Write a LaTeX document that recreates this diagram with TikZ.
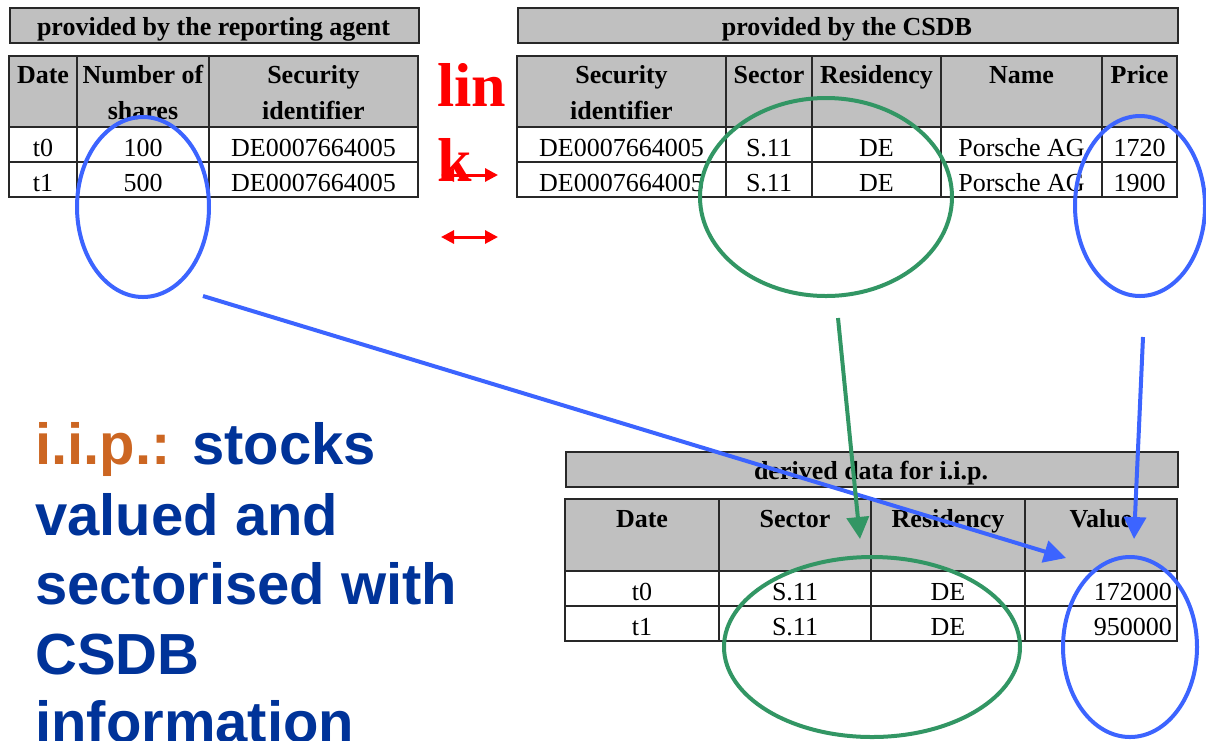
\documentclass[tikz,border=0pt]{standalone}
\usepackage{fontspec}
\setmainfont{Liberation Serif}
\newfontfamily\arialf{Liberation Sans}
\usetikzlibrary{arrows.meta,shapes.geometric}
\definecolor{hdr}{RGB}{192,192,192}
\definecolor{gridc}{RGB}{40,40,40}
\definecolor{ringblue}{RGB}{60,100,255}
\definecolor{ringgreen}{RGB}{50,150,100}
\definecolor{txtblue}{RGB}{0,51,153}
\definecolor{txtorange}{RGB}{204,102,34}
\begin{document}
\begin{tikzpicture}[x=1pt,y=-1pt,
  hdrbox/.style={draw=gridc,line width=1.5pt,fill=hdr},
  rowbox/.style={draw=gridc,line width=1.5pt,fill=white},
  hd/.style={anchor=base,inner sep=0pt,font=\fontsize{26}{31}\selectfont\bfseries},
  dt/.style={anchor=base,inner sep=0pt,font=\fontsize{26}{31}\selectfont},
  ring/.style={ellipse,draw,line width=4pt,inner sep=0pt},
  conn/.style={line width=4pt,-{Triangle[length=22pt,width=22pt]}},
  lnk/.style={red,line width=3pt,{Triangle[length=13pt,width=13pt]}-{Triangle[length=13pt,width=13pt]}},
  big/.style={anchor=base west,inner sep=0pt,text=txtblue,font=\arialf\fontsize{58}{70}\selectfont\bfseries}
]
\useasboundingbox (0,0) rectangle (1206,740);

% ---------- top-left table ----------
\node[hdrbox,anchor=north west,minimum width=409pt,minimum height=35pt,inner sep=0pt] (tl) at (9,7) {};
\node[hd] (tltitle) at (213.5,35) {provided by the reporting agent};
\path[hdrbox] (9,56) rectangle (418,127);
\path[rowbox] (9,127) rectangle (418,162);
\path[rowbox] (9,162) rectangle (418,197);
\draw[draw=gridc,line width=1.5pt] (77,56) -- (77,197) (209,56) -- (209,197);
\node[hd] (a1) at (43,83) {Date};
\node[hd] (a2) at (143,83) {Number of};
\node[hd] (a2b) at (143,119) {shares};
\node[hd] (a3) at (313.5,83) {Security};
\node[hd] (a3b) at (313.5,119) {identifier};
\node[dt] (a11) at (43,156) {t0};
\node[dt] (a12) at (143,156) {100};
\node[dt] (a13) at (313.5,156) {DE0007664005};
\node[dt] (a21) at (43,191) {t1};
\node[dt] (a22) at (143,191) {500};
\node[dt] (a23) at (313.5,191) {DE0007664005};

% ---------- top-right table ----------
\node[hdrbox,anchor=north west,minimum width=660pt,minimum height=35pt,inner sep=0pt] (tr) at (517,7) {};
\node[hd] (trtitle) at (847,35) {provided by the CSDB};
\path[hdrbox] (517,56) rectangle (1177,127);
\path[rowbox] (517,127) rectangle (1177,162);
\path[rowbox] (517,162) rectangle (1177,197);
\draw[draw=gridc,line width=1.5pt] (726,56) -- (726,197) (812,56) -- (812,197)
  (941,56) -- (941,197) (1102,56) -- (1102,197);
\node[hd] (b1) at (621.5,83) {Security};
\node[hd] (b1b) at (621.5,119) {identifier};
\node[hd] (b2) at (769,83) {Sector};
\node[hd] (b3) at (876.5,83) {Residency};
\node[hd] (b4) at (1021.5,83) {Name};
\node[hd] (b5) at (1139.5,83) {Price};
\node[dt] (b11) at (621.5,156) {DE0007664005};
\node[dt] (b12) at (769,156) {S.11};
\node[dt] (b13) at (876.5,156) {DE};
\node[dt] (b14) at (1021.5,156) {Porsche AG};
\node[dt] (b15) at (1139.5,156) {1720};
\node[dt] (b21) at (621.5,191) {DE0007664005};
\node[dt] (b22) at (769,191) {S.11};
\node[dt] (b23) at (876.5,191) {DE};
\node[dt] (b24) at (1021.5,191) {Porsche AG};
\node[dt] (b25) at (1139.5,191) {1900};

% ---------- bottom table ----------
\node[hdrbox,anchor=north west,minimum width=612pt,minimum height=35pt,inner sep=0pt] (bt) at (565,451) {};
\node[hd] (bttitle) at (871,479) {derived data for i.i.p.};
\path[hdrbox] (565,499) rectangle (1177,571);
\path[rowbox] (565,571) rectangle (1177,606);
\path[rowbox] (565,606) rectangle (1177,641);
\draw[draw=gridc,line width=1.5pt] (719,499) -- (719,641) (871,499) -- (871,641) (1025,499) -- (1025,641);
\node[hd] (c1) at (642,527) {Date};
\node[hd] (c2) at (795,527) {Sector};
\node[hd] (c3) at (948,527) {Residency};
\node[hd] (c4) at (1101,527) {Value};
\node[dt] (c11) at (642,600) {t0};
\node[dt] (c12) at (795,600) {S.11};
\node[dt] (c13) at (948,600) {DE};
\node[dt,anchor=base east] (c14) at (1172,600) {172000};
\node[dt] (c21) at (642,635) {t1};
\node[dt] (c22) at (795,635) {S.11};
\node[dt] (c23) at (948,635) {DE};
\node[dt,anchor=base east] (c24) at (1172,635) {950000};

% ---------- link label ----------
\node[anchor=base west,inner sep=0pt,text=red,font=\fontsize{62}{75}\selectfont\bfseries] (lin) at (437,106) {lin};
\node[anchor=base west,inner sep=0pt,text=red,font=\fontsize{62}{75}\selectfont\bfseries] (lk) at (437,181) {k};
\coordinate (l1a) at (441,175); \coordinate (l1b) at (498,175);
\coordinate (l2a) at (441,237); \coordinate (l2b) at (498,237);
\draw[lnk] (l1a) -- (l1b);
\draw[lnk] (l2a) -- (l2b);

% ---------- rings ----------
\node[ring,draw=ringblue,minimum width=132pt,minimum height=180pt] (e1) at (143,207) {};
\node[ring,draw=ringgreen,minimum width=252pt,minimum height=198pt] (e2) at (826,197) {};
\node[ring,draw=ringblue,minimum width=130pt,minimum height=180pt] (e3) at (1140,206) {};
\node[ring,draw=ringgreen,minimum width=296pt,minimum height=180pt] (e4) at (872,647) {};
\node[ring,draw=ringblue,minimum width=134pt,minimum height=180pt] (e5) at (1130,647) {};

% ---------- connectors ----------
\coordinate (s1) at (203,296); \coordinate (t1) at (1066,558);
\coordinate (s2) at (838,318); \coordinate (t2) at (860,539);
\coordinate (s3) at (1143,337); \coordinate (t3) at (1134,539);
\draw[conn,ringblue] (s1) -- (t1);
\draw[conn,ringgreen] (s2) -- (t2);
\draw[conn,ringblue] (s3) -- (t3);

% ---------- caption ----------
\node[big] (p1) at (35,464) {\textcolor{txtorange}{i.i.p.:} stocks};
\node[big] (p2) at (35,535) {valued and};
\node[big] (p3) at (35,604) {sectorised with};
\node[big] (p4) at (35,674) {CSDB};
\node[big] (p5) at (35,742) {information};
\end{tikzpicture}
\end{document}
